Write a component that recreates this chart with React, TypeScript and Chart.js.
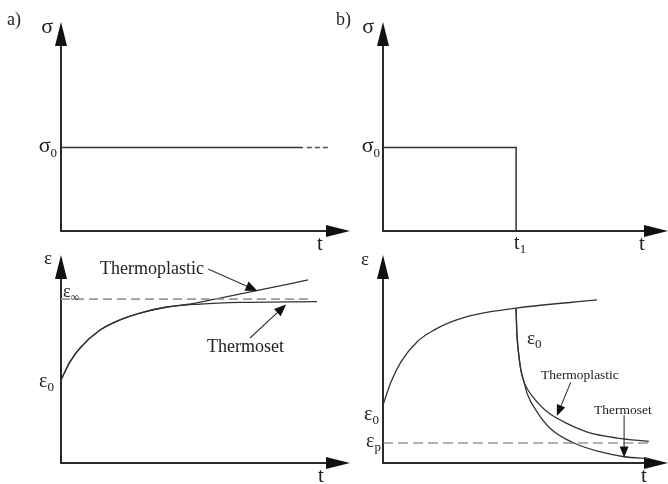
import React, { useEffect, useRef } from "react";
import { Chart, registerables } from "chart.js";

Chart.register(...registerables);

const W = 668;
const H = 484;
const FONT = "'Liberation Serif', 'Times New Roman', serif";
const INK = "#222";
const LINE = "#333";
const AXIS = "#2a2a2a";

// time and value ranges of every panel (arbitrary units)
const T_MAX = 10;
const V_MAX = 10;

// a) constant stress
const SIGMA_0 = 4;
const holdT = [0, 8.37];
const holdDashT = [8.51, 9.24];

// b) stress removed at t1
const T1 = 4.67;
const stepT = [0, T1, T1];
const stepS = [SIGMA_0, SIGMA_0, 0];

// a) creep strain under constant stress
const thermoplasticT = [0, 0.31, 0.66, 1.35, 2.04, 2.73, 3.67, 4.36, 5.5, 6.89, 8.55];
const thermoplasticE = [3.99, 4.86, 5.53, 6.39, 6.88, 7.21, 7.5, 7.62, 7.93, 8.32, 8.8];
const thermosetT = [0, 0.31, 0.66, 1.35, 2.04, 2.73, 3.67, 4.81, 6.19, 8.86];
const thermosetE = [3.99, 4.86, 5.53, 6.39, 6.88, 7.21, 7.5, 7.64, 7.72, 7.76];
const EPS_INF = 7.88;
const epsInfT = [0, 8.69];

// b) creep up to t1, then recovery
const creepT = [0, 0.28, 0.63, 1.19, 1.79, 2.39, 2.95, 3.54, 4.67, 7.51];
const creepE = [2.79, 3.89, 4.86, 5.82, 6.39, 6.78, 7.04, 7.22, 7.45, 7.84];
const recoveryPlasticT = [4.67, 4.69, 4.74, 4.83, 4.95, 5.06, 5.41, 5.77, 6.47, 7.17, 8.22, 9.33];
const recoveryPlasticE = [7.45, 6.46, 5.5, 4.53, 3.89, 3.57, 2.93, 2.45, 1.89, 1.49, 1.2, 1.04];
const recoverySetT = [4.67, 4.69, 4.74, 4.83, 4.95, 5.06, 5.41, 5.88, 6.7, 7.64, 8.46, 9.33];
const recoverySetE = [7.45, 6.46, 5.5, 4.53, 3.89, 3.33, 2.45, 1.65, 0.96, 0.53, 0.3, 0.21];
const EPS_P = 0.96;
const epsPT = [0, 9.33];

type Area = { left: number; top: number; right: number; bottom: number };

const pts = (xs: number[], ys: number[]) => xs.map((x, i) => ({ x, y: ys[i] }));
const flat = (xs: number[], v: number) => xs.map((x) => ({ x, y: v }));

function line(data: { x: number; y: number }[], extra: any = {}) {
  return {
    data,
    showLine: true,
    pointRadius: 0,
    borderColor: LINE,
    borderWidth: 1.3,
    clip: false,
    ...extra,
  };
}

function arrowHead(ctx: CanvasRenderingContext2D, x1: number, y1: number, x2: number, y2: number, len: number, half: number) {
  const a = Math.atan2(y2 - y1, x2 - x1);
  const bx = x2 - len * Math.cos(a);
  const by = y2 - len * Math.sin(a);
  ctx.beginPath();
  ctx.moveTo(x2, y2);
  ctx.lineTo(bx + half * Math.sin(a), by - half * Math.cos(a));
  ctx.lineTo(bx - half * Math.sin(a), by + half * Math.cos(a));
  ctx.closePath();
  ctx.fill();
}

function pointer(ctx: CanvasRenderingContext2D, x1: number, y1: number, x2: number, y2: number, len: number, half: number) {
  const a = Math.atan2(y2 - y1, x2 - x1);
  ctx.save();
  ctx.strokeStyle = "#333";
  ctx.fillStyle = "#111";
  ctx.lineWidth = 1.1;
  ctx.beginPath();
  ctx.moveTo(x1, y1);
  ctx.lineTo(x2 - len * 0.6 * Math.cos(a), y2 - len * 0.6 * Math.sin(a));
  ctx.stroke();
  arrowHead(ctx, x1, y1, x2, y2, len, half);
  ctx.restore();
}

function label(
  ctx: CanvasRenderingContext2D,
  main: string,
  sub: string,
  x: number,
  y: number,
  size: number,
  subSize: number,
  align: "left" | "right" | "center"
) {
  ctx.save();
  ctx.fillStyle = INK;
  ctx.textBaseline = "alphabetic";
  ctx.textAlign = "left";
  ctx.font = `${size}px ${FONT}`;
  const mw = ctx.measureText(main).width;
  ctx.font = `${subSize}px ${FONT}`;
  const sw = sub ? ctx.measureText(sub).width : 0;
  const total = mw + sw;
  let sx = x;
  if (align === "right") sx = x - total;
  if (align === "center") sx = x - total / 2;
  ctx.font = `${size}px ${FONT}`;
  ctx.fillText(main, sx, y);
  if (sub) {
    ctx.font = `${subSize}px ${FONT}`;
    ctx.fillText(sub, sx + mw, y + size * 0.22);
  }
  ctx.restore();
}

function drawAxes(chart: Chart) {
  const { ctx, chartArea: a } = chart;
  ctx.save();
  ctx.strokeStyle = AXIS;
  ctx.fillStyle = "#111";
  ctx.lineWidth = 2;
  ctx.beginPath();
  ctx.moveTo(a.left, a.bottom);
  ctx.lineTo(a.left, a.top + 16);
  ctx.moveTo(a.left - 1, a.bottom);
  ctx.lineTo(a.right - 16, a.bottom);
  ctx.stroke();
  arrowHead(ctx, a.left, a.bottom, a.left, a.top, 24, 6);
  arrowHead(ctx, a.left, a.bottom, a.right, a.bottom, 24, 6);
  ctx.restore();
}

type Panel = {
  area: Area;
  datasets: any[];
  decorate: (ctx: CanvasRenderingContext2D, px: (v: number) => number, py: (v: number) => number, a: Area) => void;
};

const panels: Panel[] = [
  {
    area: { left: 61, top: 22, right: 350, bottom: 231 },
    datasets: [
      line(flat(holdT, SIGMA_0), { borderWidth: 1.5 }),
      line(flat(holdDashT, SIGMA_0), { borderWidth: 1.5, borderDash: [5, 3], borderColor: "#555" }),
    ],
    decorate: (ctx, px, py, a) => {
      label(ctx, "a)", "", 7, 25, 18, 12, "left");
      label(ctx, "σ", "", a.left - 8, a.top + 11, 22, 13, "right");
      label(ctx, "σ", "0", a.left - 4, py(SIGMA_0) + 5, 22, 13, "right");
      label(ctx, "t", "", a.right - 30, a.bottom + 19, 21, 13, "center");
    },
  },
  {
    area: { left: 383, top: 22, right: 668, bottom: 231 },
    datasets: [line(pts(stepT, stepS), { borderWidth: 1.5 })],
    decorate: (ctx, px, py, a) => {
      label(ctx, "b)", "", 336, 25, 18, 12, "left");
      label(ctx, "σ", "", a.left - 9, a.top + 11, 22, 13, "right");
      label(ctx, "σ", "0", a.left - 3, py(SIGMA_0) + 5, 22, 13, "right");
      label(ctx, "t", "1", px(T1) - 2, a.bottom + 18, 20, 13, "left");
      label(ctx, "t", "", a.right - 26, a.bottom + 19, 21, 13, "center");
    },
  },
  {
    area: { left: 61, top: 255, right: 350, bottom: 463 },
    datasets: [
      line(flat(epsInfT, EPS_INF), { borderColor: "#9a9a9a", borderWidth: 1.6, borderDash: [9, 5] }),
      line(pts(thermoplasticT, thermoplasticE), { cubicInterpolationMode: "monotone" }),
      line(pts(thermosetT, thermosetE), { cubicInterpolationMode: "monotone" }),
    ],
    decorate: (ctx, px, py, a) => {
      label(ctx, "ε", "", a.left - 9, a.top + 9, 19, 12, "right");
      label(ctx, "ε", "∞", a.left + 2, py(EPS_INF) - 2, 18, 12, "left");
      label(ctx, "ε", "0", a.left - 7, py(thermosetE[0]) + 7, 20, 13, "right");
      label(ctx, "t", "", a.right - 29, a.bottom + 19, 21, 13, "center");
      ctx.save();
      ctx.fillStyle = INK;
      ctx.font = `18px ${FONT}`;
      ctx.textBaseline = "alphabetic";
      ctx.fillText("Thermoplastic", px(1.35), py(9.09));
      ctx.fillText("Thermoset", px(5.05), py(5.34));
      ctx.restore();
      pointer(ctx, px(5.09), py(9.33), px(6.8), py(8.27), 12, 5);
      pointer(ctx, px(6.54), py(6.01), px(7.79), py(7.62), 12, 5);
    },
  },
  {
    area: { left: 383, top: 255, right: 668, bottom: 463 },
    datasets: [
      line(flat(epsPT, EPS_P), { borderColor: "#666", borderWidth: 1.1, borderDash: [10, 5] }),
      line(pts(creepT, creepE), { cubicInterpolationMode: "monotone" }),
      line(pts(recoveryPlasticT, recoveryPlasticE), { cubicInterpolationMode: "monotone" }),
      line(pts(recoverySetT, recoverySetE), { cubicInterpolationMode: "monotone" }),
    ],
    decorate: (ctx, px, py, a) => {
      label(ctx, "ε", "", a.left - 14, a.top + 10, 19, 12, "right");
      label(ctx, "ε", "0", a.left - 4, py(creepE[0]) + 15, 20, 13, "right");
      label(ctx, "ε", "p", a.left - 2, py(EPS_P) + 4, 20, 13, "right");
      label(ctx, "ε", "0", px(5.05), py(5.72), 19, 13, "left");
      label(ctx, "t", "", a.right - 24, a.bottom + 19, 21, 13, "center");
      ctx.save();
      ctx.fillStyle = INK;
      ctx.font = `13.5px ${FONT}`;
      ctx.textBaseline = "alphabetic";
      ctx.fillText("Thermoplastic", px(5.54), py(4.04));
      ctx.fillText("Thermoset", px(7.4), py(2.36));
      ctx.restore();
      pointer(ctx, px(6.59), py(3.89), px(6.1), py(2.26), 11, 4.5);
      pointer(ctx, px(8.46), py(2.29), px(8.46), py(0.26), 11, 4.5);
    },
  },
];

export default function App() {
  const refs = useRef<(HTMLCanvasElement | null)[]>([]);

  useEffect(() => {
    const charts = panels.map((p, i) => {
      const canvas = refs.current[i] as HTMLCanvasElement;
      return new Chart(canvas, {
        type: "scatter",
        data: { datasets: p.datasets },
        options: {
          animation: false,
          responsive: false,
          maintainAspectRatio: false,
          devicePixelRatio: 1,
          events: [],
          layout: {
            padding: {
              left: p.area.left,
              top: p.area.top,
              right: W - p.area.right,
              bottom: H - p.area.bottom,
            },
          },
          plugins: { legend: { display: false }, tooltip: { enabled: false } },
          scales: {
            x: { type: "linear", min: 0, max: T_MAX, display: false },
            y: { type: "linear", min: 0, max: V_MAX, display: false },
          },
        },
        plugins: [
          {
            id: "panelDecor",
            beforeDatasetsDraw(chart: Chart) {
              drawAxes(chart);
            },
            afterDatasetsDraw(chart: Chart) {
              const xs = chart.scales.x;
              const ys = chart.scales.y;
              const a = chart.chartArea;
              p.decorate(
                chart.ctx,
                (v) => xs.getPixelForValue(v),
                (v) => ys.getPixelForValue(v),
                { left: a.left, top: a.top, right: a.right, bottom: a.bottom }
              );
            },
          },
        ],
      } as any);
    });
    return () => charts.forEach((c) => c.destroy());
  }, []);

  return (
    <div style={{ position: "fixed", left: 0, top: 0, width: W, height: H, background: "#fff" }}>
      {panels.map((_, i) => (
        <canvas
          key={i}
          ref={(el) => {
            refs.current[i] = el;
          }}
          width={W}
          height={H}
          style={{ position: "absolute", left: 0, top: 0, width: W, height: H }}
        />
      ))}
    </div>
  );
}
